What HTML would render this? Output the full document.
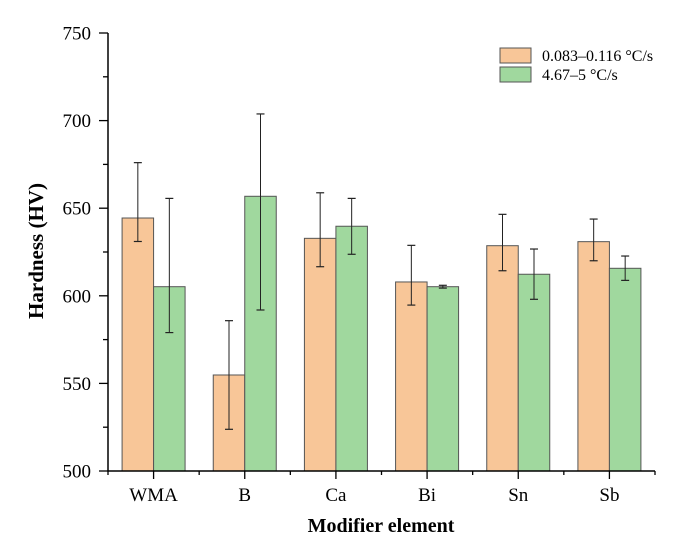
<!DOCTYPE html>
<html><head><meta charset="utf-8"><style>
body{margin:0;background:#fff}
svg text{font-family:"Liberation Serif",serif;fill:#000}
</style></head><body>
<svg id="c" width="700" height="555" xmlns="http://www.w3.org/2000/svg"></svg>
<script>
const categories=["WMA","B","Ca","Bi","Sn","Sb"];
const slowVals=[644.4,554.8,632.8,607.9,628.6,630.9];
const slowHi=[676,585.8,658.8,628.8,646.5,643.8];
const slowLo=[631,523.8,616.6,594.7,614.3,620];
const fastVals=[605.2,656.8,639.7,605.2,612.3,615.7];
const fastHi=[655.6,703.8,655.6,606,626.7,622.7];
const fastLo=[579,591.9,623.7,604.4,598,608.8];
const yTicks=[500,550,600,650,700,750];
const seriesNames=["0.083–0.116 °C/s","4.67–5 °C/s"];

const NS="http://www.w3.org/2000/svg",svg=document.getElementById('c');
const L=108,R=655,T=33,B=471,ymin=500,ymax=750;
const y=v=>B-(v-ymin)/(ymax-ymin)*(B-T);
const step=(R-L)/categories.length;
const xc=i=>L+step*(i+0.5);
const bw=31.5;
function mk(t,a,name,txt){const e=document.createElementNS(NS,t);for(const k in a)e.setAttribute(k,a[k]);


if(txt!=null)e.textContent=txt;svg.appendChild(e);return e;}
function bar(x,v,hi,lo,fill,name){
 mk('rect',{x:x,y:y(v),width:bw,height:B-y(v),fill:fill,stroke:'#555','stroke-width':1},name);
 const cx=x+bw/2;
 mk('line',{x1:cx,x2:cx,y1:y(hi),y2:y(lo),stroke:'#222','stroke-width':1},name+'-error');
 mk('line',{x1:cx-4,x2:cx+4,y1:y(hi),y2:y(hi),stroke:'#222','stroke-width':1.2},name+'-error-cap-top');
 mk('line',{x1:cx-4,x2:cx+4,y1:y(lo),y2:y(lo),stroke:'#222','stroke-width':1.2},name+'-error-cap-bottom');
}
categories.forEach((c,i)=>{
 bar(xc(i)-bw,slowVals[i],slowHi[i],slowLo[i],'#f8c698','bar-slow-'+c.toLowerCase());
 bar(xc(i),fastVals[i],fastHi[i],fastLo[i],'#a0d89e','bar-fast-'+c.toLowerCase());
 mk('line',{x1:xc(i),x2:xc(i),y1:B,y2:B+8,stroke:'#000','stroke-width':1.3},'x-tick');
 mk('line',{x1:L+step*i,x2:L+step*i,y1:B,y2:B+4,stroke:'#000','stroke-width':1.3},'x-minor-tick');
 mk('text',{x:xc(i),y:B+30,'text-anchor':'middle','font-size':19},'x-tick-label',c);
});
mk('line',{x1:R,x2:R,y1:B,y2:B+4,stroke:'#000','stroke-width':1.3},'x-minor-tick');
yTicks.forEach((t,i)=>{
 mk('line',{x1:L-9,x2:L,y1:y(t),y2:y(t),stroke:'#000','stroke-width':1.3},'y-tick');
 mk('text',{x:L-17,y:y(t)+6.5,'text-anchor':'end','font-size':19},'y-tick-label',t);
 if(i<yTicks.length-1){const m=(t+yTicks[i+1])/2;mk('line',{x1:L-5,x2:L,y1:y(m),y2:y(m),stroke:'#000','stroke-width':1.3},'y-minor-tick');}
});
mk('line',{x1:L,x2:L,y1:T,y2:B+0.6,stroke:'#000','stroke-width':1.5},'y-axis');
mk('line',{x1:L,x2:R,y1:B,y2:B,stroke:'#000','stroke-width':1.5},'x-axis');
mk('text',{x:381,y:532,'text-anchor':'middle','font-size':20,'font-weight':'bold'},'x-axis-title','Modifier element');
mk('text',{x:0,y:0,'text-anchor':'middle','font-size':21,'font-weight':'bold',transform:'translate(43,251) rotate(-90)'},'y-axis-title','Hardness (HV)');
const lc=['#f8c698','#a0d89e'];
seriesNames.forEach((n,i)=>{
 mk('rect',{x:500,y:48+i*19,width:31,height:15,fill:lc[i],stroke:'#555','stroke-width':1},'legend-swatch-'+i);
 mk('text',{x:542,y:61+i*19,'font-size':16},'legend-label-'+i,n);
});
</script>
</body></html>
